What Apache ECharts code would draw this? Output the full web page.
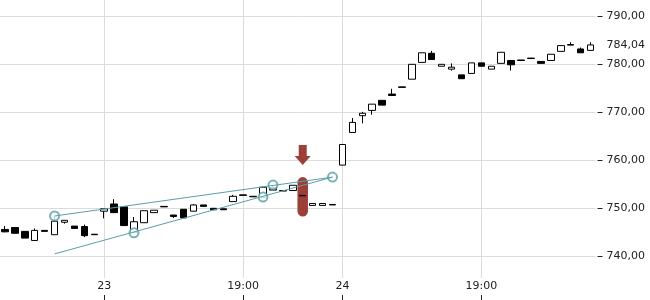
<!DOCTYPE html>
<html>
<head>
<meta charset="utf-8">
<script src="https://cdn.jsdelivr.net/npm/echarts@6/dist/echarts.min.js"></script>
<style>html,body{margin:0;padding:0;background:#fff}#c{width:650px;height:300px}</style>
</head>
<body>
<div id="c"></div>
<script>
// ---- data ----
const categories = [
  '22 19:00','22 20:00','22 21:00','22 22:00','22 23:00',
  '23 00:00','23 01:00','23 02:00','23 03:00','23 04:00','23 05:00','23 06:00','23 07:00','23 08:00','23 09:00',
  '23 10:00','23 11:00','23 12:00','23 13:00','23 14:00','23 15:00','23 16:00','23 17:00','23 18:00','23 19:00',
  '23 20:00','23 21:00','23 22:00','23 23:00',
  '24 00:00','24 01:00','24 02:00','24 03:00','24 04:00','24 05:00','24 06:00','24 07:00','24 08:00','24 09:00',
  '24 10:00','24 11:00','24 12:00','24 13:00','24 14:00','24 15:00','24 16:00','24 17:00','24 18:00','24 19:00',
  '24 20:00','24 21:00','24 22:00','24 23:00',
  '25 00:00','25 01:00','25 02:00','25 03:00','25 04:00','25 05:00','25 06:00'
];
// open, close, low, high
const opens  = [745.6,746.0,745.2,743.3,745.4,744.5,747.1,746.3,746.2,744.6,
                749.4,750.9,750.3,745.0,747.0,749.1,750.4,748.6,749.8,749.4,
                750.7,750.0,749.9,751.4,752.8,752.5,752.3,754.3,753.7,753.7,
                752.7,750.6,750.6,750.8,759.0,765.8,769.3,770.4,772.5,773.8,
                775.3,776.9,780.4,782.3,779.6,779.0,777.8,778.1,780.3,779.0,
                780.2,780.8,780.9,781.3,780.6,780.8,782.7,784.1,783.2,782.9];
const closes = [745.1,744.8,743.8,745.4,745.2,747.3,747.5,745.8,744.3,744.5,
                749.9,749.1,746.4,747.2,749.5,749.6,750.3,748.3,748.0,750.7,
                750.4,749.7,749.7,752.5,752.7,752.4,754.4,753.8,753.6,754.8,
                752.6,751.0,751.0,750.7,763.3,767.9,769.8,771.7,771.5,773.5,
                775.2,780.0,782.4,781.0,780.0,779.4,777.0,780.3,779.6,779.6,
                782.5,779.9,780.8,781.2,780.2,782.1,783.9,784.0,782.4,784.04];
const lows   = [745.0,744.8,743.8,743.3,745.2,744.5,746.8,745.8,744.0,744.5,
                747.9,749.1,746.4,745.0,747.0,749.1,750.3,748.0,748.0,749.4,
                750.4,749.7,749.7,751.4,752.7,752.4,752.3,753.8,753.6,753.7,
                752.6,750.6,750.6,750.7,759.0,765.8,767.7,769.5,771.5,773.5,
                775.2,776.9,780.4,781.0,779.6,778.7,777.0,778.1,779.6,779.0,
                780.2,778.7,780.8,781.2,780.2,780.8,782.7,784.0,782.4,782.9];
const highs  = [746.3,746.0,745.2,745.8,745.4,748.4,747.5,746.3,746.6,744.6,
                749.9,751.9,750.3,748.2,749.5,749.6,750.4,748.6,749.8,750.9,
                750.7,750.0,749.9,752.8,752.8,752.5,754.4,754.7,753.7,754.8,
                752.7,751.0,751.0,750.8,763.3,768.8,770.1,771.7,772.5,774.9,
                775.3,780.0,782.4,782.8,780.0,780.2,777.8,780.3,780.3,779.6,
                782.5,780.8,780.9,781.3,780.6,782.1,783.9,784.6,783.5,784.6];

const xTickLabels = { '23 05:00': '23', '23 19:00': '19:00', '24 05:00': '24', '24 19:00': '19:00' };
const yTicks = [740, 750, 760, 770, 780, 790];
const lastClose = 784.04;

// trend wedge: [categoryIndex, value]
const upperLine = [[5, 748.4], [33, 756.5]];
const lowerLine = [[5, 740.5], [33, 756.5]];
const touchPoints = [[5, 748.4], [13, 744.9], [26, 752.35], [27, 754.85], [33, 756.5]];
// highlighted candle: [index, top value, bottom value]
const highlight = [[30, 756.5, 748.3]];
// arrow: [index, tip value]
const arrowMark = [[30, 759.0]];

// ---- chart ----
const FONT = 'DejaVu Sans';
const TEAL = '#5a9fa8';
const RED = '#9b3f38';
const GRIDC = '#dcdcdc';

const ohlc = categories.map((c, i) => [opens[i], closes[i], lows[i], highs[i]]);
const xTickIdx = Object.keys(xTickLabels).map(k => categories.indexOf(k));

const chart = echarts.init(document.getElementById('c'), null, { renderer: 'canvas' });
chart.setOption({
  animation: false,
  backgroundColor: '#fff',
  grid: { left: -1, right: 54.5, top: 0, bottom: 22, containLabel: false },
  xAxis: [
    {
      type: 'category', data: categories, boundaryGap: true,
      axisLine: { show: false, onZero: false }, axisTick: { show: false }, splitLine: { show: false },
      axisLabel: {
        interval: (idx, val) => xTickLabels[val] !== undefined,
        formatter: val => xTickLabels[val] || '',
        margin: 3, color: '#222', fontSize: 11, fontFamily: FONT
      }
    },
    {
      type: 'value', min: -0.5, max: categories.length - 0.5, position: 'bottom', offset: 17,
      axisLine: { show: false, onZero: false },
      axisTick: { show: true, length: 5, customValues: xTickIdx, lineStyle: { color: '#222' } },
      axisLabel: { show: false },
      splitLine: { show: true, lineStyle: { color: GRIDC, width: 1 } }
    }
  ],
  yAxis: {
    type: 'value', position: 'right', min: 735.48, max: 793.4, offset: 2,
    axisLine: { show: false, onZero: false },
    axisTick: { show: true, length: 5, customValues: yTicks, lineStyle: { color: '#222' } },
    axisLabel: {
      customValues: yTicks.concat([lastClose]),
      formatter: v => v.toFixed(2).replace('.', ','),
      margin: 9, color: '#222', fontSize: 11, fontFamily: FONT
    },
    splitLine: { show: true, lineStyle: { color: GRIDC, width: 1 } }
  },
  series: [
    {
      type: 'custom', xAxisIndex: 0, z: 1,
      data: highlight,
      renderItem: (params, api) => {
        const top = api.coord([api.value(0), api.value(1)]);
        const bot = api.coord([api.value(0), api.value(2)]);
        const w = 10.5;
        return { type: 'rect', shape: { x: top[0] - w / 2, y: top[1], width: w, height: bot[1] - top[1], r: w / 2 },
                 style: { fill: RED } };
      }
    },
    {
      type: 'custom', xAxisIndex: 0, z: 1,
      data: arrowMark,
      renderItem: (params, api) => {
        const p = api.coord([api.value(0), api.value(1)]);
        const x = p[0], y = p[1];
        return { type: 'polygon', shape: { points: [
          [x, y], [x - 8, y - 9], [x - 4, y - 9], [x - 4, y - 20], [x + 4, y - 20], [x + 4, y - 9], [x + 8, y - 9]
        ] }, style: { fill: RED } };
      }
    },
    {
      type: 'candlestick', xAxisIndex: 0, z: 3,
      data: ohlc, barWidth: 7,
      itemStyle: { color: '#fff', color0: '#000', borderColor: '#000', borderColor0: '#000', borderWidth: 1 },
      markLine: {
        silent: true, symbol: ['none', 'none'], animation: false,
        label: { show: false },
        lineStyle: { color: TEAL, width: 1, type: 'solid' },
        data: [
          [{ coord: upperLine[0] }, { coord: upperLine[1] }],
          [{ coord: lowerLine[0] }, { coord: lowerLine[1] }]
        ]
      }
    },
    {
      type: 'scatter', xAxisIndex: 0, z: 4,
      data: touchPoints, symbol: 'emptyCircle', symbolSize: 9,
      itemStyle: { color: TEAL, borderColor: TEAL, borderWidth: 1 }
    }
  ]
});
</script>
</body>
</html>
